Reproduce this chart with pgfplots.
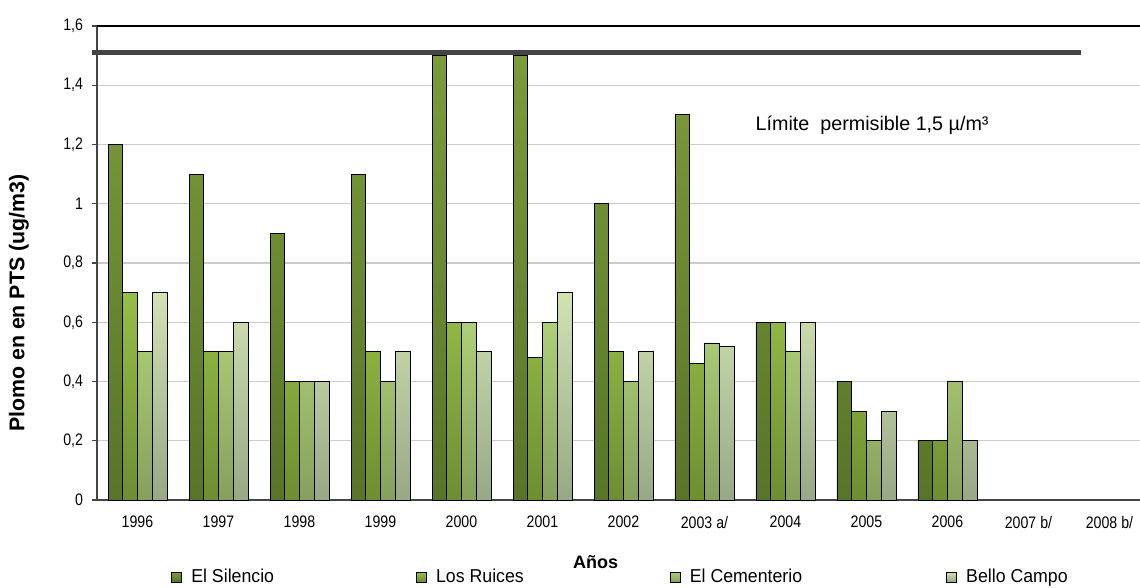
\documentclass[border=0pt]{standalone}
\usepackage{fontspec}
\setmainfont{Liberation Sans}[FakeStretch=0.85]
\newfontfamily\widef{Liberation Sans}
\newfontfamily\legf{Liberation Sans}[FakeStretch=0.95]
\usepackage{pgfplots}
\usepackage{pgfplotstable}
\pgfplotsset{compat=1.18}
\definecolor{c1t}{HTML}{7C9C3A}\definecolor{c1b}{HTML}{587428}
\definecolor{c2t}{HTML}{96BE46}\definecolor{c2b}{HTML}{6E8E32}
\definecolor{c3t}{HTML}{AECF78}\definecolor{c3b}{HTML}{86A05C}
\definecolor{c4t}{HTML}{D2E2B2}\definecolor{c4b}{HTML}{98A886}
\definecolor{limc}{HTML}{444444}
\pgfplotstableread{
x s r c b
0 1.2 0.7 0.5 0.7
1 1.1 0.5 0.5 0.6
2 0.9 0.4 0.4 0.4
3 1.1 0.5 0.4 0.5
4 1.5 0.6 0.6 0.5
5 1.5 0.48 0.6 0.7
6 1.0 0.5 0.4 0.5
7 1.3 0.46 0.53 0.52
8 0.6 0.6 0.5 0.6
9 0.4 0.3 0.2 0.3
10 0.2 0.2 0.4 0.2
}\datatable
\begin{document}
\begin{tikzpicture}
\begin{axis}[
  at={(0,0)}, anchor=south west,
  scale only axis, width=782.25pt, height=355.5pt,
  xmin=-0.5, xmax=12.377, ymin=0, ymax=1.6,
  ybar=0pt, bar width=0.182,
  axis x line*=bottom, axis y line*=left,
  x axis line style={draw=limc, line width=1.3pt},
  y axis line style={draw=limc, line width=1pt},
  clip=false,
  xtick={0,...,12},
  xticklabels={1996,1997,1998,1999,2000,2001,2002,2003 a/,2004,2005,2006,2007 b/,2008 b/},
  x tick style={draw=none},
  xticklabel style={yshift=-4.5pt},
  extra x ticks={-0.5,0.5,...,11.5},
  extra x tick labels={},
  extra x tick style={major tick length=6pt, tick align=outside, tick style={draw=gray, line width=1pt}},
  ytick={0,0.2,0.4,0.6,0.8,1.0,1.2,1.4,1.6},
  y tick style={draw=limc, line width=0.8pt},
  yticklabel style={xshift=-3pt},
  tick align=outside, major tick length=4pt,
  yticklabel style={/pgf/number format/use comma,/pgf/number format/fixed},
  /pgf/number format/assume math mode=true,
  tick label style={font=\fontsize{12.5}{14}\selectfont},
  ymajorgrids, major grid style={draw=gray!40, line width=1pt},
  ylabel={Plomo en en PTS (ug/m3)},
  every axis y label/.style={at={(rel axis cs:0,0.415)}, xshift=-58.5pt, rotate=90, anchor=center, font=\widef\bfseries\fontsize{16}{18}\selectfont},
  legend columns=4,
  legend style={at={(rel axis cs:0.071,-0.1624)}, anchor=west, draw=none, fill=none,
    font=\legf\fontsize{14}{16}\selectfont, inner sep=0pt,
    /tikz/column 1/.style={column sep=5pt},
    /tikz/column 3/.style={column sep=5pt},
    /tikz/column 5/.style={column sep=5pt},
    /tikz/column 7/.style={column sep=5pt},
    /tikz/column 2/.style={column sep=104.5pt},
    /tikz/column 4/.style={column sep=107.5pt},
    /tikz/column 6/.style={column sep=106pt}},
  legend image code/.code={\draw[#1, line width=0.5pt] (0pt,-3.7pt) rectangle (7.5pt,3.7pt);},
]
\addplot[draw=black, line width=0.6pt, top color=c1t, bottom color=c1b] table[x=x,y=s]{\datatable};
\addplot[draw=black, line width=0.6pt, top color=c2t, bottom color=c2b] table[x=x,y=r]{\datatable};
\addplot[draw=black, line width=0.6pt, top color=c3t, bottom color=c3b] table[x=x,y=c]{\datatable};
\addplot[draw=black, line width=0.6pt, top color=c4t, bottom color=c4b] table[x=x,y=b]{\datatable};
\legend{El Silencio,Los Ruices,El Cementerio,Bello Campo}
\addplot[sharp plot, draw=limc, line width=4pt, forget plot] coordinates {(-0.56,1.51) (11.65,1.51)};
\draw[black, line width=0.8pt] (rel axis cs:0,1) -- (rel axis cs:1,1);
\node[font=\widef\fontsize{14.8}{17}\selectfont] at (axis cs:9.07,1.266) {Límite\ \ permisible 1,5 µ/m³};
\node[font=\widef\bfseries\fontsize{13.5}{15}\selectfont] at (rel axis cs:0.478,-0.132) {Años};
\end{axis}
\pgfresetboundingbox
\path[use as bounding box] (-72.75pt,-65.25pt) rectangle (782.25pt,375pt);
\end{tikzpicture}
\end{document}
